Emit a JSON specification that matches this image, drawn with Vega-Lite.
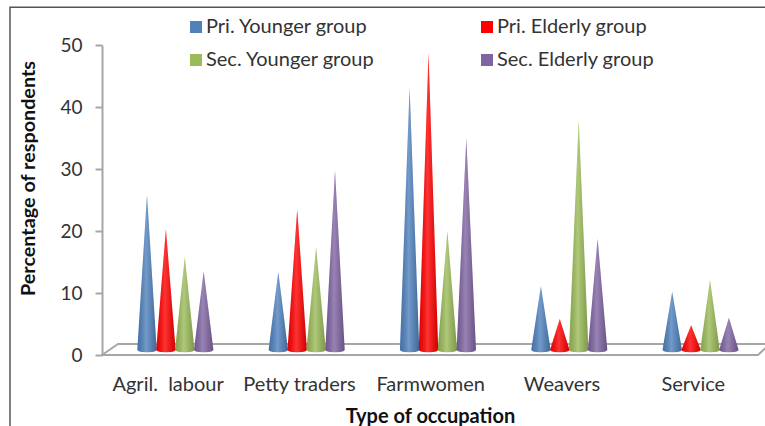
{
"$schema":"https://vega.github.io/schema/vega-lite/v6.json",
"width":656,"height":310,
"autosize":{"type":"none"},
"padding":{"left":102,"top":45,"right":7,"bottom":71},
"background":"white",
"config":{"view":{"stroke":null},"font":"Lato"},
"datasets":{
"cones":[
{"occupation":"Agril.  labour","series":"Pri. Younger group","value":25},
{"occupation":"Agril.  labour","series":"Pri. Elderly group","value":19.5},
{"occupation":"Agril.  labour","series":"Sec. Younger group","value":15},
{"occupation":"Agril.  labour","series":"Sec. Elderly group","value":12.7},
{"occupation":"Petty traders","series":"Pri. Younger group","value":12.6},
{"occupation":"Petty traders","series":"Pri. Elderly group","value":22.7},
{"occupation":"Petty traders","series":"Sec. Younger group","value":16.6},
{"occupation":"Petty traders","series":"Sec. Elderly group","value":29},
{"occupation":"Farmwomen","series":"Pri. Younger group","value":42.3},
{"occupation":"Farmwomen","series":"Pri. Elderly group","value":47.9},
{"occupation":"Farmwomen","series":"Sec. Younger group","value":19.2},
{"occupation":"Farmwomen","series":"Sec. Elderly group","value":34.2},
{"occupation":"Weavers","series":"Pri. Younger group","value":10.3},
{"occupation":"Weavers","series":"Pri. Elderly group","value":5},
{"occupation":"Weavers","series":"Sec. Younger group","value":37},
{"occupation":"Weavers","series":"Sec. Elderly group","value":18},
{"occupation":"Service","series":"Pri. Younger group","value":9.4},
{"occupation":"Service","series":"Pri. Elderly group","value":4},
{"occupation":"Service","series":"Sec. Younger group","value":11.3},
{"occupation":"Service","series":"Sec. Elderly group","value":5.2}
],
"floor":[
{"seg":"front","step":0,"u":0,"level":0},
{"seg":"front","step":1,"u":656,"level":0},
{"seg":"front","step":2,"u":668,"level":1.8},
{"seg":"back","step":0,"u":0,"level":0},
{"seg":"back","step":1,"u":16,"level":1.77},
{"seg":"back","step":2,"u":668,"level":1.77}
],
"frame":[
{"step":0,"u":-92,"level":-13},
{"step":1,"u":-92,"level":56.1},
{"step":2,"u":668,"level":56.1}
]
},
"layer":[
{"data":{"name":"floor"},
 "mark":{"type":"line","color":"#a6a6a6","strokeWidth":2,"clip":false},
 "encoding":{
  "x":{"field":"u","type":"quantitative","scale":{"domain":[0,656],"nice":false,"zero":false},
   "axis":{"values":[65.6,196.9,328.2,459.5,590.8],"labelExpr":"['Agril.\u00a0 labour','Petty traders','Farmwomen','Weavers','Service'][round((datum.value-65.6)/131.3)]","title":"Type of occupation","titleFontSize":20,"titleFontWeight":"bold","titleColor":"#111","titlePadding":12,"labelFontSize":20,"labelColor":"#333","labelAngle":0,"labelPadding":19,"domain":false,"ticks":false,"grid":false,"labelLimit":200,"labelFlush":false,"labelOverlap":false}},
  "y":{"field":"level","type":"quantitative","scale":{"domain":[0,50],"nice":false},"axis":{"values":[0,10,20,30,40,50],"title":"Percentage of respondents","titleFontSize":19.8,"titleFontWeight":"bold","titleColor":"#111","titleX":-64,"titleY":133,"labelFontSize":19,"labelColor":"#333","labelPadding":13,"grid":false,"domainColor":"#a6a6a6","domainWidth":2,"tickColor":"#a6a6a6","tickWidth":2,"tickSize":7}},
  "detail":{"field":"seg"},
  "order":{"field":"step","type":"quantitative"}
 }},
{"data":{"name":"frame"},
 "mark":{"type":"line","color":"#555555","strokeWidth":1.5,"clip":false},
 "encoding":{
  "x":{"field":"u","type":"quantitative"},
  "y":{"field":"level","type":"quantitative"},
  "order":{"field":"step","type":"quantitative"}
 }},
{"data":{"name":"cones"},
 "transform":[
  {"calculate":"[-1,-0.85,-0.55,0,0.55,0.85,1]","as":"side"},
  {"flatten":["side"]},
  {"calculate":"datum.value*(1-abs(datum.side))","as":"top"},
  {"calculate":"-0.37*sqrt(1-datum.side*datum.side)","as":"bottom"},
  {"calculate":"indexof(['Agril.  labour','Petty traders','Farmwomen','Weavers','Service'],datum.occupation)*131.3+65.6+indexof(['Pri. Younger group','Pri. Elderly group','Sec. Younger group','Sec. Elderly group'],datum.series)*18.9-20.6+datum.side*9.7","as":"pos"}
 ],
 "encoding":{
  "x":{"field":"pos","type":"quantitative"},
  "y":{"field":"top","type":"quantitative"},
  "y2":{"field":"bottom"},
  "detail":[{"field":"series"},{"field":"occupation"}]
 },
 "layer":[
  {"mark":{"type":"area","yOffset":-5,"y2Offset":-5,"clip":false},
   "encoding":{"color":{"field":"series","type":"nominal","scale":{"domain":["Pri. Younger group","Pri. Elderly group","Sec. Younger group","Sec. Elderly group"],"range":["#4f81bd","#ff0000","#9bbb59","#8064a2"]},
    "legend":{"orient":"none","legendX":84,"legendY":-28,"columns":2,"direction":"horizontal","title":null,"symbolType":"square","symbolSize":144,"symbolStrokeWidth":0,"labelFontSize":20,"labelColor":"#333","columnPadding":102,"rowPadding":13,"labelOffset":0,"labelLimit":260}}}},
  {"mark":{"type":"area","yOffset":-5,"y2Offset":-5,"clip":false,"fill":{"gradient":"linear","x1":0,"x2":1,"y1":0,"y2":0,"stops":[{"offset":0,"color":"rgba(0,0,0,0.12)"},{"offset":0.45,"color":"rgba(255,255,255,0.2)"},{"offset":1,"color":"rgba(0,0,0,0.18)"}]}}}
 ]}
]
}
